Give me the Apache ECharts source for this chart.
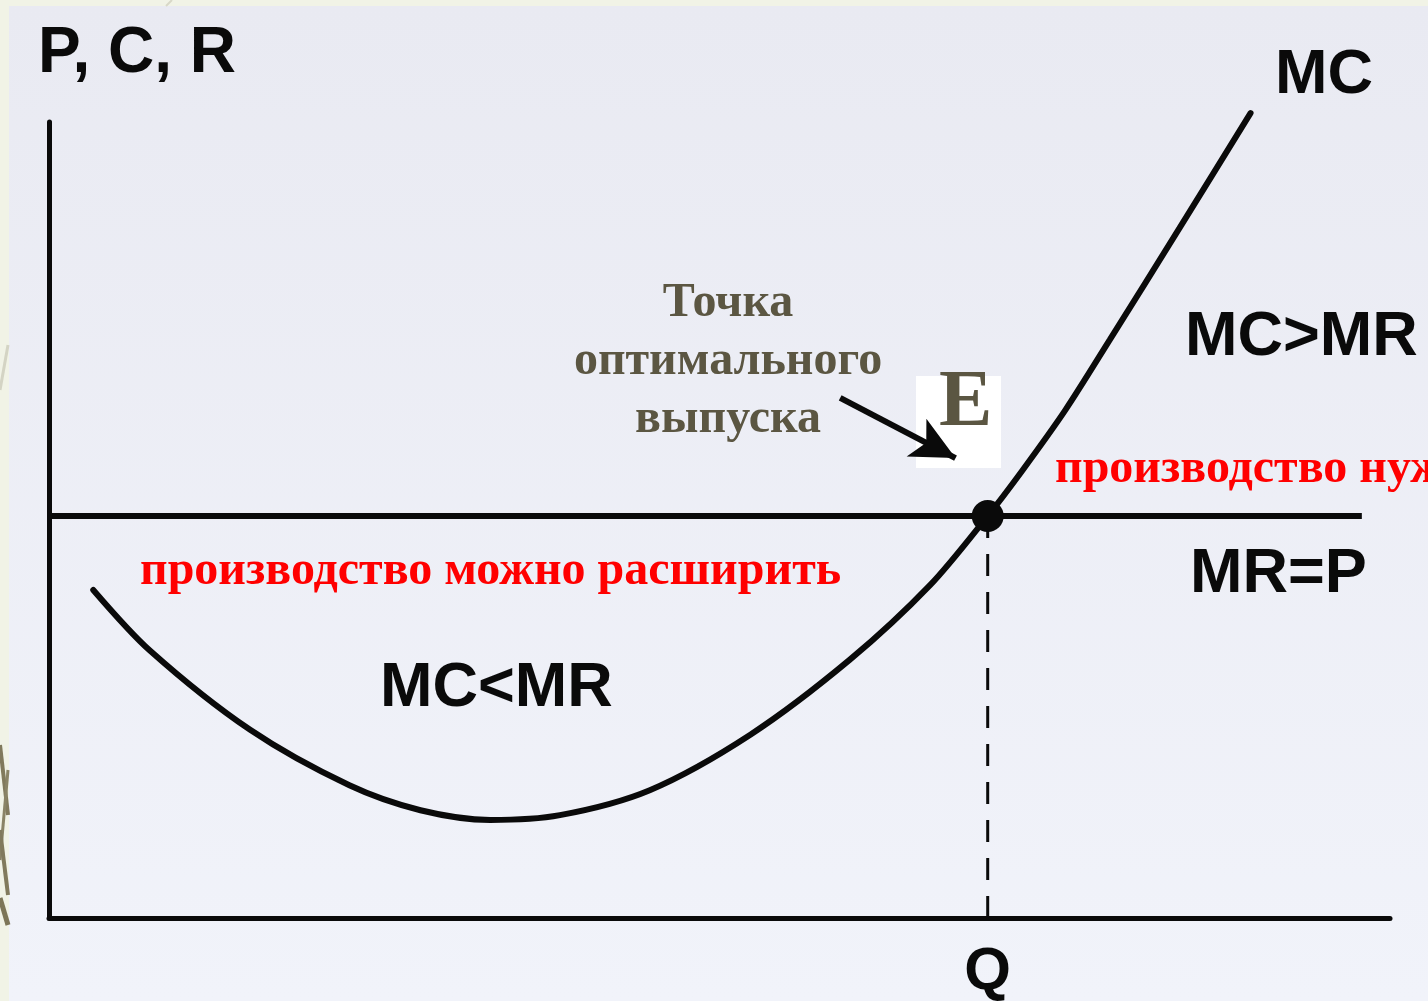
<!DOCTYPE html>
<html>
<head>
<meta charset="utf-8">
<title>Оптимальный выпуск: MC = MR</title>
<script src="https://cdn.jsdelivr.net/npm/echarts@6/dist/echarts.min.js"></script>
<style>
  html, body { margin: 0; padding: 0; background: #f1f3e6; }
  #chart { width: 1428px; height: 1001px; }
</style>
</head>
<body>
<div id="chart"></div>
<script>
// Quantity (Q) and marginal cost (MC) along the U-shaped curve
const mcQ    = [0.33, 0.75, 1.50, 2.24, 2.77, 3.29, 3.81, 4.48, 5.23, 5.97, 6.57, 7.00, 7.26, 7.58, 7.91, 8.43, 8.96];
const mcCost = [4.08, 3.33, 2.34, 1.65, 1.34, 1.22, 1.28, 1.59, 2.28, 3.21, 4.14, 5.00, 5.57, 6.32, 7.19, 8.58, 10.01];

// Marginal revenue equals price (horizontal line)
const mrQ     = [0, 9.79];
const mrLevel = 5;

// Optimal output where MC = MR
const qOptimal = 7;

// Axis extents
const qMax = 10;
const pMax = 9.9;

// Pointer from the caption to point E
const arrowFrom = [5.90, 6.47];
const arrowTo   = [6.76, 5.72];

const black = '#0a0a0a';
const olive = '#5b5642';
const red   = '#ff0000';
const sans  = 'Arial, "Liberation Sans", sans-serif';
const serif = '"Times New Roman", "Liberation Serif", serif';

const chart = echarts.init(document.getElementById('chart'), null, { renderer: 'canvas' });

const mcData = mcQ.map((q, i) => [q, mcCost[i]]);
const mrData = mrQ.map(q => [q, mrLevel]);

chart.setOption({
  backgroundColor: '#f1f3e6',
  animation: false,
  grid: { left: 49, right: 38, top: 122, bottom: 83, containLabel: false, outerBoundsMode: 'none' },
  xAxis: {
    type: 'value',
    min: 0,
    max: qMax,
    interval: qOptimal,
    splitLine: { show: false },
    axisTick: { show: false },
    axisLine: { show: true, lineStyle: { color: black, width: 5 } },
    axisLabel: {
      showMaxLabel: false,
      margin: 24,
      color: black,
      fontFamily: sans,
      fontWeight: 'bold',
      fontSize: 60,
      lineHeight: 60,
      formatter: v => (v === qOptimal ? 'Q' : '')
    }
  },
  yAxis: {
    type: 'value',
    min: 0,
    max: pMax,
    splitLine: { show: false },
    axisTick: { show: false },
    axisLabel: { show: false },
    axisLine: { show: true, lineStyle: { color: black, width: 5 } }
  },
  graphic: [
    {
      type: 'rect', z: -10, silent: true,
      shape: { x: 9, y: 6, width: 1419, height: 995 },
      style: {
        fill: new echarts.graphic.LinearGradient(0, 0, 0, 1, [
          { offset: 0, color: '#e9eaf2' },
          { offset: 1, color: '#f1f3fa' }
        ])
      }
    },
    // decorative strands along the left border
    { type: 'polyline', z: -5, silent: true,
      shape: { points: [[0, 745], [8, 815]] }, style: { stroke: '#817a5c', lineWidth: 4, fill: null } },
    { type: 'polyline', z: -5, silent: true,
      shape: { points: [[8, 770], [0, 860]] }, style: { stroke: '#8a8466', lineWidth: 3, fill: null } },
    { type: 'polyline', z: -5, silent: true,
      shape: { points: [[0, 830], [8, 895]] }, style: { stroke: '#817a5c', lineWidth: 4, fill: null } },
    { type: 'polyline', z: -5, silent: true,
      shape: { points: [[0, 898], [8, 925]] }, style: { stroke: '#7d7658', lineWidth: 5, fill: null } },
    { type: 'polyline', z: -5, silent: true,
      shape: { points: [[8, 345], [0, 390]] }, style: { stroke: '#d4d4c4', lineWidth: 3, fill: null } },
    { type: 'polyline', z: -5, silent: true,
      shape: { points: [[172, 0], [166, 6]] }, style: { stroke: '#d8d8c8', lineWidth: 2, fill: null } },

    // axis title
    { type: 'text', left: 38, top: 22,
      style: { text: 'P, C, R', fill: black, font: 'bold 64px ' + sans } },
    // curve and region labels
    { type: 'text', left: 1275, top: 44,
      style: { text: 'MC', fill: black, font: 'bold 63px ' + sans } },
    { type: 'text', left: 1185, top: 306,
      style: { text: 'MC>MR', fill: black, font: 'bold 63px ' + sans } },
    { type: 'text', left: 1190, top: 543,
      style: { text: 'MR=P', fill: black, font: 'bold 63px ' + sans } },
    { type: 'text', left: 380, top: 657,
      style: { text: 'MC<MR', fill: black, font: 'bold 63px ' + sans } },

    // caption for the optimum
    { type: 'text', x: 728, y: 275,
      style: {
        text: 'Точка\nоптимального\nвыпуска',
        fill: olive, font: 'bold 48px ' + serif,
        align: 'center', verticalAlign: 'top', lineHeight: 58
      } },

    // white plate with letter E
    { type: 'rect', shape: { x: 916, y: 376, width: 85, height: 92 }, style: { fill: '#ffffff' } },
    { type: 'text', left: 939, top: 364,
      style: { text: 'E', fill: olive, font: 'bold 80px ' + serif } },

    // red notes
    { type: 'text', left: 140, top: 548,
      style: { text: 'производство можно расширить', fill: red, font: 'bold 48px ' + serif } },
    { type: 'text', left: 1055, top: 446,
      style: { text: 'производство нужно сократить', fill: red, font: 'bold 48px ' + serif } }
  ],
  series: [
    {
      name: 'MR=P',
      type: 'line',
      data: mrData,
      symbol: 'none',
      lineStyle: { color: black, width: 6 },
      z: 3
    },
    {
      name: 'Q*',
      type: 'line',
      data: [[qOptimal, 0], [qOptimal, mrLevel]],
      symbol: 'none',
      lineStyle: { color: black, width: 3, type: [22, 16] },
      z: 3
    },
    {
      name: 'MC',
      type: 'line',
      data: mcData,
      smooth: 0.3,
      symbol: 'none',
      clip: false,
      lineStyle: { color: black, width: 6, cap: 'round' },
      z: 4,
      markLine: {
        silent: true,
        symbol: ['none', 'arrow'],
        symbolSize: [32, 44],
        label: { show: false },
        lineStyle: { color: black, width: 6, type: 'solid' },
        data: [[{ coord: arrowFrom }, { coord: arrowTo }]]
      }
    },
    {
      name: 'E',
      type: 'scatter',
      data: [[qOptimal, mrLevel]],
      symbol: 'circle',
      symbolSize: 32,
      itemStyle: { color: black, opacity: 1 },
      z: 5
    }
  ]
});
</script>
</body>
</html>
